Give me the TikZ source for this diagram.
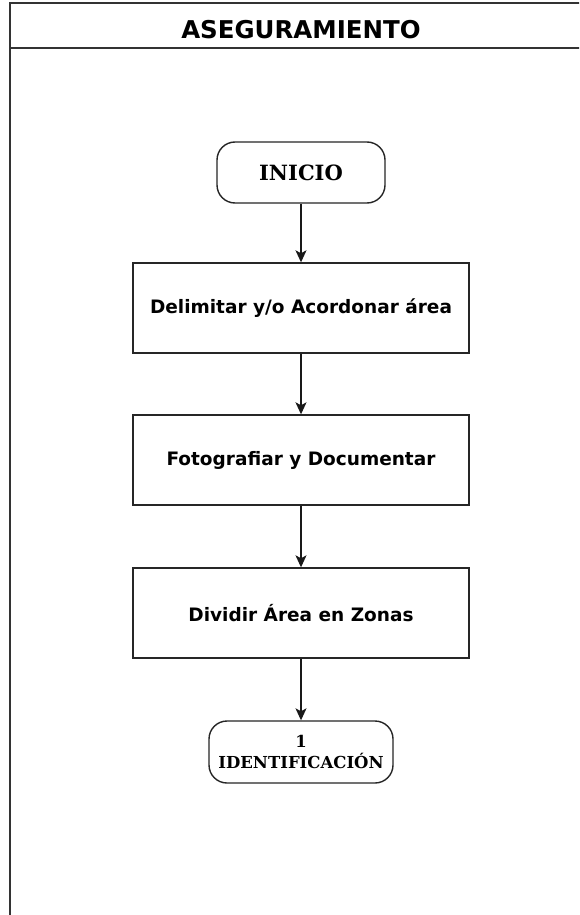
\documentclass[tikz,border=0pt]{standalone}
\usepackage{fontspec}
\setmainfont{DejaVu Sans}
\newfontfamily\termfont{DejaVu Serif}
\usetikzlibrary{arrows.meta,positioning}
\tikzset{
  frameline/.style={draw=black!80, line width=1.8pt},
  procbox/.style={draw=black!85, line width=1.4pt, minimum width=336pt, minimum height=90pt,
    font=\fontsize{18.5}{22}\selectfont\bfseries, align=center},
  termbox/.style={draw=black!85, line width=1.4pt, rounded corners=18pt, align=center},
  flow/.style={draw=black!90, line width=1.3pt, -{Stealth[length=12pt,width=11pt,inset=3pt]}}
}
\begin{document}
\begin{tikzpicture}[x=1pt,y=-1pt]
  \useasboundingbox (0,0) rectangle (579,915);
  \clip (0,0) rectangle (579,915);
  \fill[white] (0,0) rectangle (579,915);
  % swimlane frame and header
  \draw[frameline] (10,3) rectangle (593,935);
  \draw[frameline] (10,48) -- (593,48);
  \node[font=\fontsize{24.5}{28}\selectfont\bfseries] (title) at (301,30) {ASEGURAMIENTO};
  % flow steps
  \node[termbox, minimum width=168pt, minimum height=61pt, font=\termfont\fontsize{21}{24}\selectfont\bfseries] (inicio) at (301,172.5) {INICIO};
  \node[procbox] (delim) at (301,308) {Delimitar y/o Acordonar área};
  \node[procbox] (foto) at (301,460) {Fotografiar y Documentar};
  \node[procbox] (divid) at (301,613) {Dividir Área en Zonas};
  \node[termbox, minimum width=184pt, minimum height=62pt, inner sep=2pt, font=\termfont\fontsize{16.5}{21}\selectfont\bfseries] (ident) at (301,752) {1\\IDENTIFICACIÓN};
  % connectors
  \draw[flow] (inicio) -- (delim);
  \draw[flow] (delim) -- (foto);
  \draw[flow] (foto) -- (divid);
  \draw[flow] (divid) -- (ident);
\end{tikzpicture}
\end{document}
